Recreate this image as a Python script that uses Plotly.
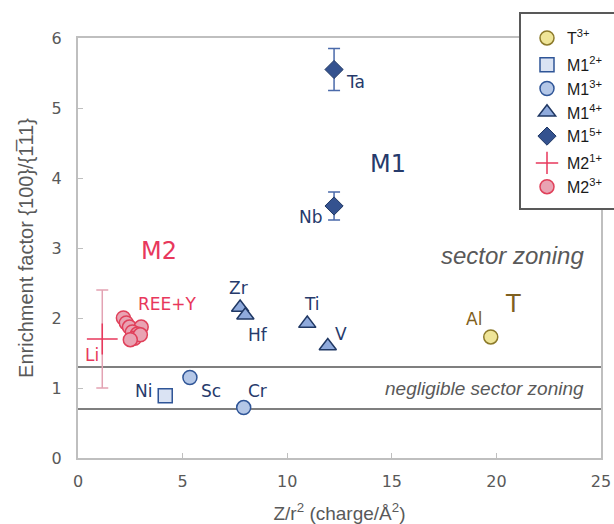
import plotly.graph_objects as go

# ---------------- data ----------------
t3_x = [19.73]; t3_y = [1.73]; t3_lab = ["Al"]
m12_x = [4.17]; m12_y = [0.89]; m12_lab = ["Ni"]
m13_x = [5.35, 7.92]; m13_y = [1.15, 0.72]; m13_lab = ["Sc", "Cr"]
m14_x = [7.75, 8.0, 10.96, 11.94]; m14_y = [2.15, 2.04, 1.92, 1.60]; m14_lab = ["Zr", "Hf", "Ti", "V"]
m15_x = [12.24, 12.24]; m15_y = [5.55, 3.60]; m15_err = [0.30, 0.20]; m15_lab = ["Ta", "Nb"]
m21_x = [1.16]; m21_y = [1.70]; m21_err = [0.70]; m21_lab = ["Li"]
m23_x = [2.17, 2.31, 2.46, 3.02, 2.60, 2.84, 2.70, 2.98, 2.50]
m23_y = [2.00, 1.93, 1.87, 1.87, 1.80, 1.77, 1.71, 1.76, 1.69]
thresholds = [0.7, 1.3]
x_ticks = [0, 5, 10, 15, 20, 25]
y_ticks = [0, 1, 2, 3, 4, 5, 6]

# ---------------- styles ----------------
NAVY = "#263a6b"
RED = "#e8385c"
GOLD = "#7f6020"
GREY = "#595959"
LAB_FONT = "DejaVu Sans"

fig = go.Figure()

fig.add_trace(go.Scatter(x=t3_x, y=t3_y, mode="markers", name="T<sup>3+</sup>", legendgroup="T",
                         marker=dict(symbol="circle", size=14, color="#efe598",
                                     line=dict(color="#8c7a2a", width=1.5))))
fig.add_trace(go.Scatter(x=m12_x, y=m12_y, mode="markers", name="M1<sup>2+</sup>", legendgroup="M1",
                         marker=dict(symbol="square", size=14, color="#dae3f3",
                                     line=dict(color="#2f5597", width=1.5))))
fig.add_trace(go.Scatter(x=m13_x, y=m13_y, mode="markers", name="M1<sup>3+</sup>", legendgroup="M1",
                         marker=dict(symbol="circle", size=14, color="#b4c7e7",
                                     line=dict(color="#2f5597", width=1.5))))
fig.add_trace(go.Scatter(x=m14_x, y=m14_y, mode="markers", name="M1<sup>4+</sup>", legendgroup="M1",
                         marker=dict(symbol="triangle-up", size=15, color="#8faadc",
                                     line=dict(color="#203864", width=1.5))))
fig.add_trace(go.Scatter(x=m15_x, y=m15_y, mode="markers", name="M1<sup>5+</sup>", legendgroup="M1",
                         error_y=dict(type="data", array=m15_err, color="#4a6aaa", thickness=1.5, width=6),
                         marker=dict(symbol="diamond", size=14, color="#34528f",
                                     line=dict(color="#203864", width=1))))
fig.add_trace(go.Scatter(x=m21_x, y=m21_y, mode="markers", name="M2<sup>1+</sup>", legendgroup="M2",
                         error_y=dict(type="data", array=m21_err, color="#e3a3b3", thickness=1.5, width=6),
                         marker=dict(symbol="cross-thin", size=22, color=RED,
                                     line=dict(color=RED, width=1.5))))
fig.add_trace(go.Scatter(x=m23_x, y=m23_y, mode="markers", name="M2<sup>3+</sup>", legendgroup="M2",
                         marker=dict(symbol="circle", size=14, color="#e9a3b3",
                                     line=dict(color="#e0405a", width=1.5))))

# threshold lines
for t in thresholds:
    fig.add_shape(type="line", xref="x", yref="y", x0=0, x1=25, y0=t, y1=t,
                  line=dict(color="#7f7f7f", width=2), layer="below")

# element labels (pixel offsets from points)
def label(xs, ys, texts, shifts, color):
    for xv, yv, tx, (dx, dy) in zip(xs, ys, texts, shifts):
        fig.add_annotation(x=xv, y=yv, text=tx, showarrow=False, xshift=dx, yshift=dy,
                           font=dict(family=LAB_FONT, size=17, color=color))

label(t3_x, t3_y, t3_lab, [(-17, 18)], GOLD)
label(m12_x, m12_y, m12_lab, [(-22, 5)], NAVY)
label(m13_x, m13_y, m13_lab, [(21, -13), (14, 17)], NAVY)
label(m14_x, m14_y, m14_lab, [(-2, 20), (13, -20), (5, 20), (13, 12)], NAVY)
label(m15_x, m15_y, m15_lab, [(21, -12), (-23, -11)], NAVY)
label(m21_x, m21_y, m21_lab, [(-10, -16)], RED)

# group labels
groups = [("M1", 14.81, 4.20, NAVY, 24), ("M2", 3.87, 2.96, RED, 24),
          ("T", 20.8, 2.20, GOLD, 24), ("REE+Y", 4.30, 2.20, RED, 17)]
for tx, xv, yv, col, sz in groups:
    fig.add_annotation(x=xv, y=yv, text=tx, showarrow=False,
                       font=dict(family=LAB_FONT, size=sz, color=col))

fig.add_annotation(x=24.3, y=2.89, text="<i>sector zoning</i>", showarrow=False, xanchor="right",
                   font=dict(family="Liberation Sans", size=24, color=GREY))
fig.add_annotation(x=24.3, y=1.0, text="<i>negligible sector zoning</i>", showarrow=False, xanchor="right",
                   font=dict(family="Liberation Sans", size=19, color=GREY))

# legend box
fig.add_shape(type="rect", xref="paper", yref="paper", x0=(520 - 78) / 523, x1=1.05, y0=(458 - 209) / 420,
              y1=(458 - 13) / 420, line=dict(color="#595959", width=2), fillcolor="white", layer="above")

fig.update_layout(
    width=614, height=524,
    margin=dict(l=78, r=13, t=38, b=66, autoexpand=False),
    paper_bgcolor="white", plot_bgcolor="white",
    showlegend=True,
    legend=dict(x=(527 - 78) / 523, y=(458 - 21) / 420, xanchor="left", yanchor="top",
                bgcolor="rgba(0,0,0,0)", borderwidth=0, traceorder="grouped", tracegroupgap=3,
                font=dict(family="Liberation Sans", size=16, color="#1a1a1a")),
    xaxis=dict(range=[0, 25], tickvals=x_ticks, showline=True, mirror=True, linecolor="#bfbfbf",
               linewidth=2, ticks="inside", ticklen=5, tickcolor="#bfbfbf", showgrid=False,
               zeroline=False, ticklabelstandoff=8, automargin=False,
               tickfont=dict(family=LAB_FONT, size=16, color=GREY),
               title=dict(text="Z/r<sup>2</sup> (charge/Å<sup>2</sup>)", standoff=18,
                          font=dict(family="Liberation Sans", size=19, color=GREY))),
    yaxis=dict(range=[0, 6], tickvals=y_ticks, showline=True, mirror=True, linecolor="#bfbfbf",
               linewidth=2, ticks="inside", ticklen=5, tickcolor="#bfbfbf", showgrid=False,
               zeroline=False, ticklabelstandoff=11, automargin=False,
               tickfont=dict(family=LAB_FONT, size=16, color=GREY),
               title=dict(text="Enrichment factor {100}/{1\u030511}", standoff=13,
                          font=dict(family="Liberation Sans", size=20, color=GREY))),
)

fig.write_html("out.html", config={"displayModeBar": False},
               post_script="document.body.style.margin='0';document.body.style.overflow='hidden';")
